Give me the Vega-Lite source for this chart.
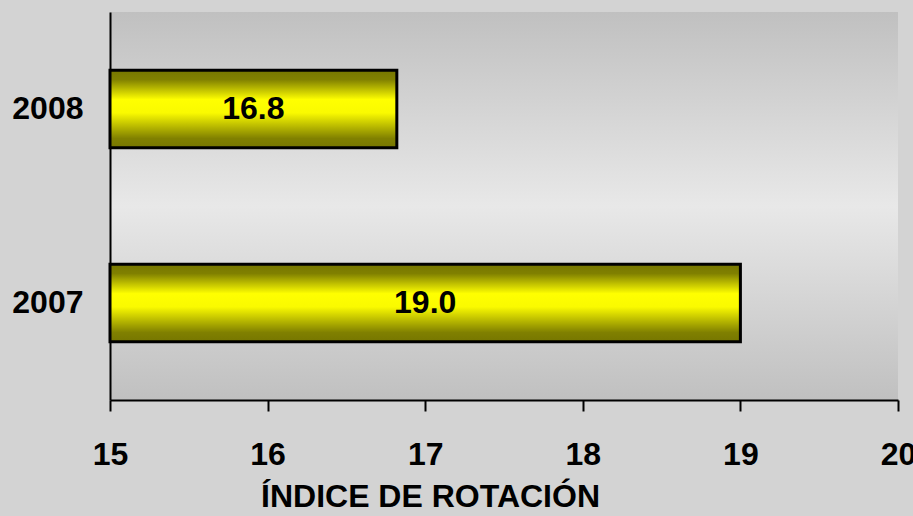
{
  "$schema": "https://vega.github.io/schema/vega-lite/v6.json",
  "autosize": {"type": "none"},
  "padding": {"left": 110, "top": 12, "right": 15, "bottom": 116},
  "width": 788,
  "height": 388,
  "background": "#d3d3d3",
  "config": {
    "view": {
      "stroke": null,
      "fill": {
        "gradient": "linear", "x1": 0, "y1": 0, "x2": 0, "y2": 1,
        "stops": [
          {"offset": 0, "color": "#c0c0c0"},
          {"offset": 0.5, "color": "#e8e8e8"},
          {"offset": 1, "color": "#c0c0c0"}
        ]
      }
    },
    "font": "Liberation Sans"
  },
  "data": {
    "values": [
      {"year": "2008", "value": 16.82},
      {"year": "2007", "value": 19.0}
    ]
  },
  "transform": [{"calculate": "(15 + datum.value) / 2", "as": "mid"}],
  "encoding": {
    "y": {
      "field": "year",
      "type": "nominal",
      "sort": ["2008", "2007"],
      "scale": {"paddingInner": 0.6, "paddingOuter": 0.3},
      "axis": {
        "title": null,
        "ticks": false,
        "grid": false,
        "domainColor": "#000000",
        "domainWidth": 2,
        "labelFont": "Liberation Sans",
        "labelFontSize": 32,
        "labelFontWeight": "bold",
        "labelColor": "#000000",
        "labelPadding": 27
      }
    }
  },
  "layer": [
    {
      "mark": {
        "type": "bar",
        "stroke": "#000000",
        "strokeWidth": 3,
        "color": {
          "gradient": "linear", "x1": 0, "y1": 0, "x2": 0, "y2": 1,
          "stops": [
            {"offset": 0, "color": "#767600"},
            {"offset": 0.12, "color": "#808000"},
            {"offset": 0.38, "color": "#ffff00"},
            {"offset": 0.55, "color": "#fafa00"},
            {"offset": 0.88, "color": "#808000"},
            {"offset": 1, "color": "#767600"}
          ]
        }
      },
      "encoding": {
        "x": {
          "field": "value",
          "type": "quantitative",
          "scale": {"domain": [15, 20], "zero": false, "nice": false},
          "axis": {
            "values": [15, 16, 17, 18, 19, 20],
            "format": "d",
            "grid": false,
            "domainColor": "#000000",
            "domainWidth": 2,
            "tickColor": "#000000",
            "tickWidth": 2,
            "tickSize": 11,
            "labelFont": "Liberation Sans",
            "labelFontSize": 32,
            "labelFontWeight": "bold",
            "labelColor": "#000000",
            "labelPadding": 28,
            "labelFlush": false,
            "labelOverlap": false,
            "title": "ÍNDICE DE ROTACIÓN",
            "titleFont": "Liberation Sans",
            "titleFontSize": 32,
            "titleFontWeight": "bold",
            "titleColor": "#000000",
            "titleX": 320,
            "titleY": 106,
            "titleBaseline": "alphabetic",
            "titleAnchor": "middle",
            "titleAlign": "center"
          }
        },
        "x2": {"datum": 15}
      }
    },
    {
      "mark": {
        "type": "text",
        "font": "Liberation Sans",
        "fontSize": 32,
        "fontWeight": "bold",
        "color": "#000000",
        "baseline": "middle",
        "align": "center"
      },
      "encoding": {
        "x": {"field": "mid", "type": "quantitative"},
        "text": {"field": "value", "type": "quantitative", "format": ".1f"}
      }
    }
  ]
}
